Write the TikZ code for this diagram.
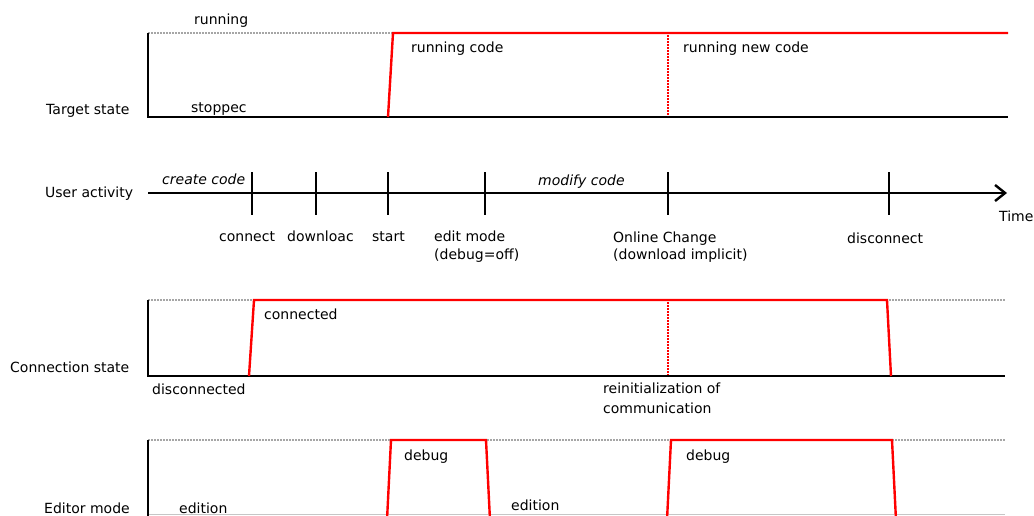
\documentclass[tikz,border=0pt]{standalone}
\usepackage{fontspec}
\setmainfont{DejaVu Sans}
\usetikzlibrary{arrows.meta}
\begin{document}
\begin{tikzpicture}[x=1pt,y=-1pt,
  axisline/.style={line width=2.4pt, black, line cap=butt, line join=miter},
  sig/.style={line width=2.4pt, red, line join=miter},
  hiline/.style={line width=2.4pt, gray!70, dash pattern=on 1.6pt off 1.4pt},
  marker/.style={line width=1.6pt, red, dash pattern=on 1.6pt off 1.4pt},
  tickline/.style={line width=2.4pt, black},
  lbl/.style={anchor=base west, inner sep=0pt, font=\fontsize{14}{16}\selectfont},
  ilbl/.style={lbl, font=\fontsize{14}{16}\selectfont\itshape}]
\useasboundingbox (0,0) rectangle (1034,515);
% ---- Target state
\draw[hiline] (148,33) -- (392,33);
\draw[axisline] (148,33) -- (148,117) -- (1008,117);
\draw[sig] (388,117) -- (393,33) -- (1008,33);
\draw[marker] (668,35) -- (668,116);
\node[lbl] (t1) at (194,24) {running};
\node[lbl] (t2) at (191,112) {stoppec};
\node[lbl] (t3) at (46,114) {Target state};
\node[lbl] (t4) at (411,52) {running code};
\node[lbl] (t5) at (683,52) {running new code};
% ---- User activity
\draw[axisline, -{Straight Barb[length=10pt,width=16pt,line width=2.4pt]}] (148,193) -- (1007,193);
\foreach \xx in {252,316,388,485,668,889}
  \draw[tickline] (\xx,172) -- (\xx,215);
\node[lbl] (u1) at (45,197) {User activity};
\node[ilbl] (u2) at (162,184) {create code};
\node[ilbl] (u3) at (538,185) {modify code};
\node[lbl] (u4) at (219,241) {connect};
\node[lbl] (u5) at (287,241) {downloac};
\node[lbl] (u6) at (372,241) {start};
\node[lbl] (u7) at (434,241) {edit mode};
\node[lbl] (u8) at (434,259) {(debug=off)};
\node[lbl] (u9) at (613,242) {Online Change};
\node[lbl] (u10) at (613,259) {(download implicit)};
\node[lbl] (u11) at (847,243) {disconnect};
\node[lbl] (u12) at (999,221) {Time};
% ---- Connection state
\draw[hiline] (148,300) -- (1005,300);
\draw[axisline] (148,300) -- (148,376) -- (1005,376);
\draw[sig] (249,376) -- (254,300) -- (887,300) -- (891,376);
\draw[marker] (668,302) -- (668,375);
\node[lbl] (c1) at (264,319) {connected};
\node[lbl] (c2) at (10,372) {Connection state};
\node[lbl] (c3) at (152,394) {disconnected};
\node[lbl] (c4) at (603,393) {reinitialization of};
\node[lbl] (c5) at (603,413) {communication};
% ---- Editor mode
\draw[hiline] (148,440) -- (1005,440);
\draw[gray!45, line width=1pt] (148,514.5) -- (1005,514.5);
\draw[axisline] (148,440) -- (148,520);
\draw[sig] (387,520) -- (391,440) -- (486,440) -- (490,520);
\draw[sig] (667,520) -- (671,440) -- (892,440) -- (896,520);
\node[lbl] (e1) at (404,460) {debug};
\node[lbl] (e2) at (686,460) {debug};
\node[lbl] (e3) at (511,510) {edition};
\node[lbl] (e4) at (179,513) {edition};
\node[lbl] (e5) at (44,513) {Editor mode};
\end{tikzpicture}
\end{document}
